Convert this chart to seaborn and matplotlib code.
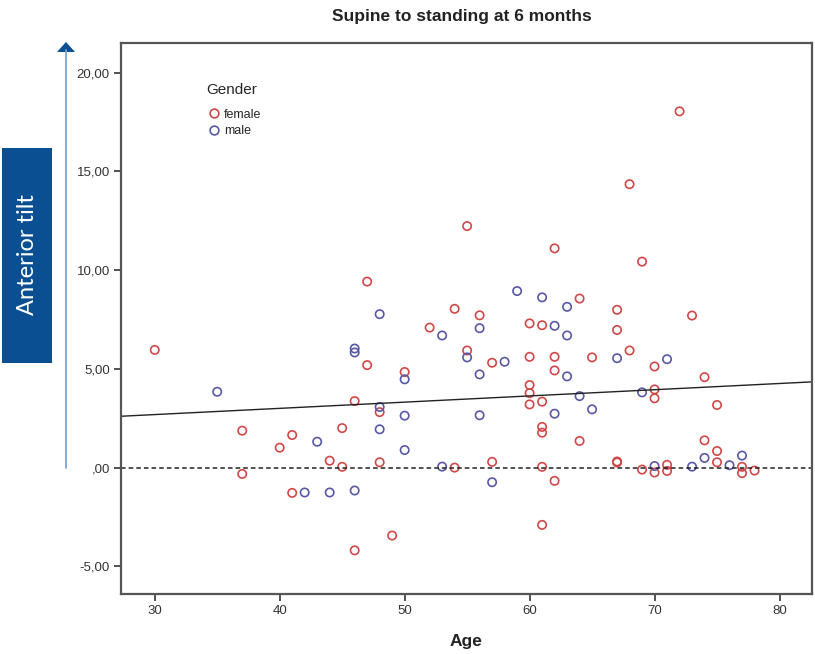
import numpy as np
import pandas as pd
import matplotlib
matplotlib.use("Agg")
import matplotlib.pyplot as plt
import seaborn as sns
from matplotlib.patches import Rectangle, Polygon
from matplotlib.lines import Line2D
from matplotlib.ticker import FuncFormatter

# ---- data ----
female_age = [30, 37, 37, 40, 41, 41, 44, 45, 45, 46, 46, 47, 47, 48, 48, 49, 50, 52, 54, 54,
              55, 55, 56, 57, 57, 60, 60, 60, 60, 60, 61, 61, 61, 61, 61, 61, 62, 62, 62, 62,
              64, 64, 65, 67, 67, 67, 67, 68, 68, 69, 69, 70, 70, 70, 70, 71, 71, 72, 73, 74,
              74, 75, 75, 75, 77, 77, 78]
female_tilt = [5.96, 1.87, -0.32, 1.01, 1.65, -1.28, 0.35, 2.00, 0.04, 3.37, -4.19, 9.42, 5.19, 2.81, 0.27, -3.44, 4.84, 7.09, 8.04, 0.00,
               12.23, 5.93, 7.71, 5.31, 0.29, 7.30, 5.61, 4.18, 3.77, 3.20, 7.21, 3.34, 2.06, 1.77, 0.04, -2.90, 11.10, 5.61, 4.92, -0.67,
               8.56, 1.35, 5.58, 7.99, 6.97, 0.31, 0.26, 14.35, 5.93, 10.43, -0.10, 5.12, 3.96, 3.51, -0.25, 0.14, -0.17, 18.04, 7.70, 4.58,
               1.38, 3.17, 0.84, 0.27, 0.04, -0.28, -0.15]
male_age = [35, 42, 43, 44, 46, 46, 46, 48, 48, 48, 50, 50, 50, 53, 53, 55, 56, 56, 56, 57,
            58, 59, 61, 62, 62, 63, 63, 63, 64, 65, 67, 69, 70, 71, 73, 74, 76, 77]
male_tilt = [3.84, -1.26, 1.31, -1.26, 6.03, 5.83, -1.16, 7.77, 3.07, 1.94, 4.47, 2.63, 0.89, 6.69, 0.05, 5.58, 7.06, 4.72, 2.65, -0.74,
             5.36, 8.94, 8.62, 7.18, 2.73, 8.14, 6.69, 4.62, 3.62, 2.95, 5.54, 3.81, 0.08, 5.49, 0.05, 0.49, 0.12, 0.61]

x_ticks = [30, 40, 50, 60, 70, 80]
y_ticks = [-5, 0, 5, 10, 15, 20]

df = pd.DataFrame({
    "Age": female_age + male_age,
    "Tilt": female_tilt + male_tilt,
    "Gender": ["female"] * len(female_age) + ["male"] * len(male_age),
})

sns.set_theme(style="white")
plt.rcParams["font.family"] = ["Liberation Sans", "DejaVu Sans"]

fig = plt.figure(figsize=(8.15, 6.54), dpi=100)
ax = fig.add_axes([121 / 815, 1 - 594 / 654, 691 / 815, 551 / 654])

palette = {"female": "#d04848", "male": "#5858a8"}
sns.scatterplot(data=df, x="Age", y="Tilt", hue="Gender", palette=palette, ax=ax,
                marker="o", s=36, facecolor="none", linewidth=1.2, legend=False)
coll = ax.collections[0]
cols = [palette[g] for g in df["Gender"]]
coll.set_facecolor("none")
coll.set_edgecolor(cols)

ax.set_xlim(27.3, 82.6)
ax.set_ylim(-6.4, 21.5)

# reference line at zero and linear fit
ax.axhline(0, color="#222222", linestyle=(0, (3, 2)), linewidth=1.1, zorder=1)
m, b = np.polyfit(df["Age"], df["Tilt"], 1)
ax.axline((0, b), slope=m, color="#222222", linewidth=1.0, zorder=1)

ax.set_xticks(x_ticks)
ax.set_yticks(y_ticks)

def fmt(v, pos):
    s = f"{v:.2f}".replace(".", ",")
    if s.startswith("0,"):
        s = s[1:]
    return s

ax.yaxis.set_major_formatter(FuncFormatter(fmt))
ax.tick_params(axis="both", which="both", direction="out", length=5, width=1.2,
               color="#333333", labelsize=9.5, labelcolor="#333333", left=True, bottom=True, pad=3)
for sp in ax.spines.values():
    sp.set_color("#555555")
    sp.set_linewidth(1.6)

ax.set_xlabel("Age", fontsize=12.5, fontweight="bold", color="#222222", labelpad=12)
ax.set_ylabel("")
fig.text(462 / 815, 1 - 16 / 654, "Supine to standing at 6 months", ha="center", va="center",
         fontsize=12.5, fontweight="bold", color="#222222")

# legend
handles = [Line2D([], [], marker="o", linestyle="none", markerfacecolor="none",
                  markeredgecolor=palette[g], markersize=6.3, markeredgewidth=1.2) for g in ["female", "male"]]
leg = ax.legend(handles, ["female", "male"], title="Gender", loc="upper left",
                bbox_to_anchor=(0.115, 0.938), frameon=False, fontsize=9, title_fontsize=11,
                handletextpad=0.2, handlelength=1.2, labelspacing=0.35, borderpad=0)
leg._legend_box.align = "left"
leg._legend_box.sep = 8

# left decoration: blue box with rotated label and arrow
fig.patches.append(Rectangle((2 / 815, 1 - 363 / 654), 50 / 815, 215 / 654,
                             transform=fig.transFigure, facecolor="#0b4f93", edgecolor="none"))
fig.text(27 / 815, 1 - 255 / 654, "Anterior tilt", rotation=90, ha="center", va="center",
         color="white", fontsize=17, family=["Lato", "DejaVu Sans"])
fig.lines.append(Line2D([66 / 815, 66 / 815], [1 - 468 / 654, 1 - 50 / 654],
                        transform=fig.transFigure, color="#7aa6d2", linewidth=1.3))
fig.patches.append(Polygon([(57 / 815, 1 - 52 / 654), (75 / 815, 1 - 52 / 654), (66 / 815, 1 - 42 / 654)],
                           closed=True, transform=fig.transFigure, facecolor="#0b4f93", edgecolor="none"))

fig.savefig("out.png", dpi=100)
